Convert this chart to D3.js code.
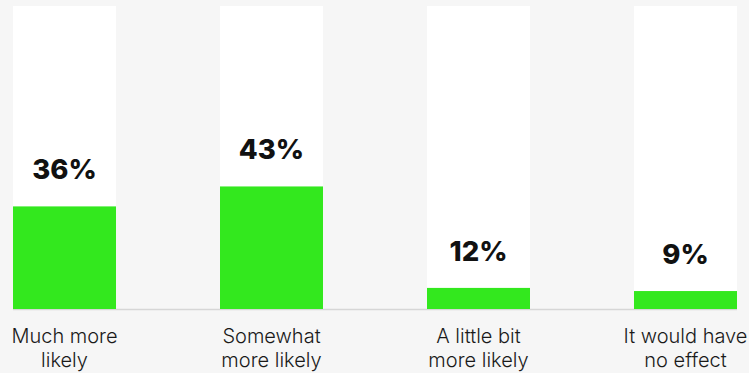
<!DOCTYPE html>
<html>
<head>
<meta charset="utf-8">
<script src="https://cdn.jsdelivr.net/npm/d3@7"></script>
<style>
  html, body { margin: 0; padding: 0; background: #f6f6f6; }
  svg { display: block; }
</style>
</head>
<body>
<svg id="chart" width="749" height="373"></svg>
<script>
// Data
const categories = ["Much more likely", "Somewhat more likely", "A little bit more likely", "It would have no effect"];
const categoryLines = [["Much more", "likely"], ["Somewhat", "more likely"], ["A little bit", "more likely"], ["It would have", "no effect"]];
const valueLabels = ["36%", "43%", "12%", "9%"];
// bar lengths as drawn in the picture (percent units)
const barValues = [36, 43, 7.4, 6.3];

const svg = d3.select("#chart");
const W = 749, H = 373;
svg.append("rect").attr("width", W).attr("height", H).attr("fill", "#f6f6f6");

const x = d3.scaleBand().domain(categories).range([13, 737]).paddingInner(0.5024).paddingOuter(0);
const y = d3.scaleLinear().domain([0, 100]).range([309, 24]);
const trackTop = 6;

const g = svg.append("g");

// white tracks
g.selectAll("rect.track").data(categories).enter().append("rect")
  .attr("class", "track")
  .attr("x", d => x(d)).attr("width", x.bandwidth())
  .attr("y", trackTop).attr("height", y(0) - trackTop)
  .attr("fill", "#ffffff");

// baseline
g.append("line")
  .attr("x1", x.range()[0]).attr("x2", x.range()[1])
  .attr("y1", y(0) + 0.5).attr("y2", y(0) + 0.5)
  .attr("stroke", "#d6d6d6").attr("stroke-width", 1.5);

// green bars
g.selectAll("rect.bar").data(categories).enter().append("rect")
  .attr("class", "bar")
  .attr("x", d => x(d)).attr("width", x.bandwidth())
  .attr("y", (d, i) => y(barValues[i]))
  .attr("height", (d, i) => y(0) - y(barValues[i]))
  .attr("fill", "#33e81e");

// value labels
g.selectAll("text.val").data(categories).enter().append("text")
  .attr("class", "val")
  .attr("x", d => x(d) + x.bandwidth() / 2)
  .attr("y", (d, i) => y(barValues[i]) - 27)
  .attr("text-anchor", "middle")
  .attr("font-family", "Inter, 'DejaVu Sans', sans-serif")
  .attr("font-weight", 800)
  .attr("font-size", 27.5)
  .attr("fill", "#111")
  .text((d, i) => valueLabels[i]);

// category labels
const cl = g.selectAll("text.cat").data(categories).enter().append("text")
  .attr("class", "cat")
  .attr("text-anchor", "middle")
  .attr("font-family", "Inter, 'DejaVu Sans', sans-serif")
  .attr("font-weight", 300)
  .attr("font-size", 20)
  .attr("fill", "#1a1a1a");
cl.each(function(d, i) {
  const t = d3.select(this);
  categoryLines[i].forEach((line, j) => {
    t.append("tspan")
      .attr("x", x(d) + x.bandwidth() / 2)
      .attr("y", 343 + j * 24)
      .text(line);
  });
});
</script>
</body>
</html>
